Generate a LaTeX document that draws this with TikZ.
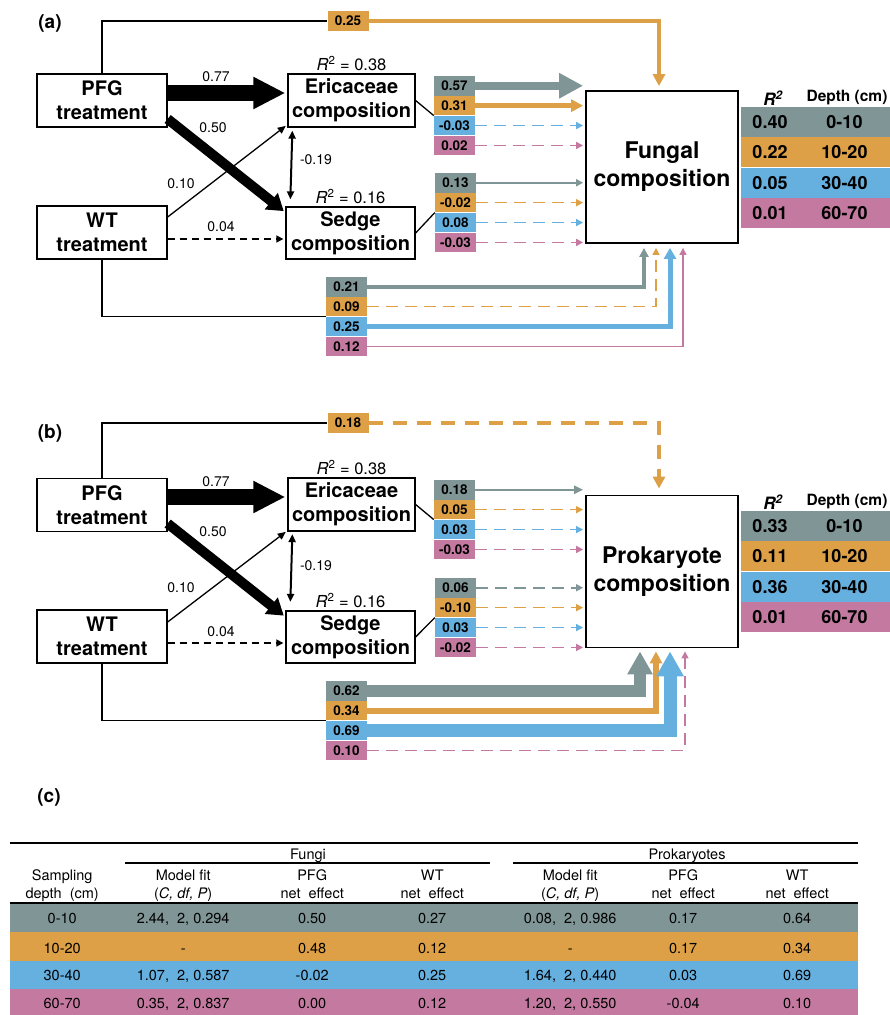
\documentclass[tikz,border=0pt]{standalone}
\usepackage{fontspec}
\setmainfont{TeX Gyre Heros}
\usepackage{tikz}
\usetikzlibrary{arrows.meta, positioning}

\definecolor{gry}{RGB}{128,150,150}
\definecolor{org}{RGB}{222,160,70}
\definecolor{blu}{RGB}{102,176,224}
\definecolor{pnk}{RGB}{196,122,160}

\newcommand{\rtwo}[2]{\makebox[58pt]{#1}\makebox[91pt]{#2}}
\newcommand{\tabcells}[7]{\makebox[104pt]{#1}\makebox[138pt]{#2}\makebox[120pt]{#3}\makebox[120pt]{#4}\makebox[156pt]{#5}\makebox[70pt]{#6}\makebox[158pt]{#7}}

\begin{document}
\begin{tikzpicture}[x=1pt, y=-1pt,
    box/.style={draw, line width=1.3pt, minimum width=130pt, minimum height=53pt, inner sep=0pt, align=center, font=\bfseries\fontsize{20}{24}\selectfont},
    bigbox/.style={draw, line width=1.8pt, minimum width=152pt, minimum height=152pt, inner sep=0pt, align=center, font=\bfseries\fontsize{23}{28}\selectfont},
    coef/.style={minimum width=41pt, minimum height=19.5pt, inner sep=0pt, font=\bfseries\fontsize{13.5}{13.5}\selectfont},
    rrow/.style={minimum width=149pt, minimum height=30pt, inner sep=0pt, font=\bfseries\fontsize{18}{18}\selectfont},
    lab/.style={inner sep=0pt, font=\fontsize{14}{14}\selectfont},
    rsq/.style={inner sep=0pt, font=\fontsize{16.5}{16.5}\selectfont},
    panel/.style={font=\bfseries\fontsize{19}{19}\selectfont},
    tab/.style={inner sep=0pt, font=\fontsize{14.5}{14.5}\selectfont},
    arrowhead/.style 2 args={-{Triangle[length=#1, width=#2]}, shorten >=2pt},
    thinarr/.style={line width=1.5pt, arrowhead={7pt}{7pt}},
    dsh/.style={dash pattern=on 12pt off 7pt},
    twoway/.style={line width=2pt, {Triangle[length=8pt,width=7pt]}-{Triangle[length=8pt,width=7pt]}},
  ]
  \useasboundingbox (0,0) rectangle (890,1015);

  % (a) fungi
  \node[panel] (alab) at (50,23) {(a)};
  \node[box] (apfg) at (102,100.5) {PFG\\treatment};
  \node[box] (awt) at (102,232.5) {WT\\treatment};
  \node[box, minimum width=127pt] (aeri) at (351.5,100.5) {Ericaceae\\composition};
  \node[box, minimum width=129pt, minimum height=52pt] (ased) at (350.5,233) {Sedge\\composition};
  \node[bigbox] (afun) at (662,167) {Fungal\\composition};
  \node[rsq, above=2pt of aeri] (aer2) {\textit{R}\textsuperscript{2} = 0.38};
  \node[rsq, above=2pt of ased] (asr2) {\textit{R}\textsuperscript{2} = 0.16};

  \draw[line width=16pt, arrowhead={32pt}{30pt}] ([yshift=7.5pt]apfg.east) -- ([yshift=7.5pt]apfg.east -| aeri.west);
  \draw[line width=10pt, arrowhead={16pt}{20pt}] ([yshift=-18.5pt]apfg.east) -- ([yshift=-6pt]ased.north west);
  \draw[line width=1.3pt, arrowhead={8pt}{7pt}] ([yshift=15.5pt]awt.east) -- ([yshift=3pt]aeri.south west);
  \draw[line width=1.5pt, dash pattern=on 7pt off 5pt, arrowhead={7pt}{7pt}] ([yshift=-6.5pt]awt.east) -- ([yshift=-6.5pt]awt.east -| ased.west);
  \draw[twoway] ([xshift=5pt,yshift=-3pt]aeri.south west) -- ([xshift=5pt,yshift=7pt]ased.north west);
  \node[lab] (a77) at (216,77) {0.77};
  \node[lab] (a50) at (213,128) {0.50};
  \node[lab] (a10) at (181,184) {0.10};
  \node[lab] (a04) at (221,227) {0.04};
  \node[lab] (a19) at (316,160) {-0.19};

  \node[coef, fill=org] (at25) at (348,21) {0.25};
  \draw[line width=1.3pt] (apfg.north) |- (at25.west);
  \draw[org, line width=4pt, arrowhead={12pt}{12pt}] (at25.east) -| ([xshift=-3pt,yshift=2pt]afun.north);

  \node[coef, fill=gry] (ae1) at (454.5,85.75) {0.57};
  \node[coef, fill=org, below=0pt of ae1] (ae2) {0.31};
  \node[coef, fill=blu, below=0pt of ae2] (ae3) {-0.03};
  \node[coef, fill=pnk, below=0pt of ae3] (ae4) {0.02};
  \draw[line width=1.3pt] (aeri.east) -- (ae2.south west);
  \draw[gry, line width=8pt, arrowhead={24pt}{24pt}] (ae1.east) -- (ae1.east -| afun.west);
  \draw[org, line width=4.5pt, arrowhead={12pt}{12pt}] (ae2.east) -- (ae2.east -| afun.west);
  \draw[blu, thinarr, dsh] (ae3.east) -- (ae3.east -| afun.west);
  \draw[pnk, thinarr, dsh] (ae4.east) -- (ae4.east -| afun.west);

  \node[coef, fill=gry] (as1) at (455.5,182.75) {0.13};
  \node[coef, fill=org, below=0pt of as1] (as2) {-0.02};
  \node[coef, fill=blu, below=0pt of as2] (as3) {0.08};
  \node[coef, fill=pnk, below=0pt of as3] (as4) {-0.03};
  \draw[line width=1.3pt] (ased.east) -- (as2.south west);
  \draw[gry, thinarr, line width=2pt] (as1.east) -- (as1.east -| afun.west);
  \draw[org, thinarr, dsh] (as2.east) -- (as2.east -| afun.west);
  \draw[blu, thinarr, dsh] (as3.east) -- (as3.east -| afun.west);
  \draw[pnk, thinarr, dsh] (as4.east) -- (as4.east -| afun.west);

  \node[coef, fill=gry] (aw1) at (346.5,286.75) {0.21};
  \node[coef, fill=org, below=0pt of aw1] (aw2) {0.09};
  \node[coef, fill=blu, below=0pt of aw2] (aw3) {0.25};
  \node[coef, fill=pnk, below=0pt of aw3] (aw4) {0.12};
  \draw[line width=1.3pt] (awt.south) |- (aw2.south west);
  \draw[gry, line width=4pt, arrowhead={9pt}{9pt}] (aw1.east) -| ([xshift=-18pt,yshift=-2pt]afun.south);
  \draw[org, thinarr, dsh] (aw2.east) -| ([xshift=-6pt,yshift=-2pt]afun.south);
  \draw[blu, line width=5pt, arrowhead={11pt}{12pt}] (aw3.east) -| ([xshift=8pt,yshift=-2pt]afun.south);
  \draw[pnk, thinarr, line width=1.2pt] (aw4.east) -| ([xshift=21pt,yshift=-2pt]afun.south);

  \node[font=\bfseries\itshape\fontsize{17}{17}\selectfont] (ar2h) at (773,98) {R\textsuperscript{2}};
  \node[font=\bfseries\fontsize{15.5}{15.5}\selectfont] (adh) at (847,98) {Depth (cm)};
  \node[rrow, fill=gry] (ar1) at (815.5,122) {\rtwo{0.40}{0-10}};
  \node[rrow, fill=org, below=0pt of ar1] (ar2) {\rtwo{0.22}{10-20}};
  \node[rrow, fill=blu, below=0pt of ar2] (ar3) {\rtwo{0.05}{30-40}};
  \node[rrow, fill=pnk, below=0pt of ar3] (ar4) {\rtwo{0.01}{60-70}};

  % (b) prokaryotes
  \node[panel] (blab) at (50,433) {(b)};
  \node[box] (bpfg) at (102,505) {PFG\\treatment};
  \node[box] (bwt) at (102,636.5) {WT\\treatment};
  \node[box, minimum width=127pt] (beri) at (351.5,504.5) {Ericaceae\\composition};
  \node[box, minimum width=129pt, minimum height=52pt] (bsed) at (350.5,637) {Sedge\\composition};
  \node[bigbox] (bpro) at (662,571.5) {Prokaryote\\composition};
  \node[rsq, above=2pt of beri] (ber2) {\textit{R}\textsuperscript{2} = 0.38};
  \node[rsq, above=2pt of bsed] (bsr2) {\textit{R}\textsuperscript{2} = 0.16};

  \draw[line width=16pt, arrowhead={32pt}{30pt}] ([yshift=8pt]bpfg.east) -- ([yshift=8pt]bpfg.east -| beri.west);
  \draw[line width=10pt, arrowhead={16pt}{20pt}] ([yshift=-18.5pt]bpfg.east) -- ([yshift=-6.5pt]bsed.north west);
  \draw[line width=1.3pt, arrowhead={8pt}{7pt}] ([yshift=14.5pt]bwt.east) -- ([yshift=1pt]beri.south west);
  \draw[line width=1.5pt, dash pattern=on 7pt off 5pt, arrowhead={7pt}{7pt}] ([yshift=-6.5pt]bwt.east) -- ([yshift=-6.5pt]bwt.east -| bsed.west);
  \draw[twoway] ([xshift=5pt,yshift=-2.5pt]beri.south west) -- ([xshift=5pt,yshift=8.5pt]bsed.north west);
  \node[lab] (b77) at (216,482) {0.77};
  \node[lab] (b50) at (213,532) {0.50};
  \node[lab] (b10) at (181,588) {0.10};
  \node[lab] (b04) at (221,632) {0.04};
  \node[lab] (b19) at (316,566) {-0.19};

  \node[coef, fill=org] (bt18) at (348,423) {0.18};
  \draw[line width=1.3pt] (bpfg.north) |- (bt18.west);
  \draw[org, line width=4pt, dash pattern=on 14pt off 10pt, arrowhead={12pt}{12pt}] (bt18.east) -| ([xshift=-3pt,yshift=4pt]bpro.north);

  \node[coef, fill=gry] (be1) at (454.5,489.75) {0.18};
  \node[coef, fill=org, below=0pt of be1] (be2) {0.05};
  \node[coef, fill=blu, below=0pt of be2] (be3) {0.03};
  \node[coef, fill=pnk, below=0pt of be3] (be4) {-0.03};
  \draw[line width=1.3pt] (beri.east) -- (be2.south west);
  \draw[gry, thinarr, line width=2.5pt, arrowhead={9pt}{8pt}] (be1.east) -- (be1.east -| bpro.west);
  \draw[org, thinarr, dsh] (be2.east) -- (be2.east -| bpro.west);
  \draw[blu, thinarr, dsh] (be3.east) -- (be3.east -| bpro.west);
  \draw[pnk, thinarr, dsh] (be4.east) -- (be4.east -| bpro.west);

  \node[coef, fill=gry] (bs1) at (455.5,587.75) {0.06};
  \node[coef, fill=org, below=0pt of bs1] (bs2) {-0.10};
  \node[coef, fill=blu, below=0pt of bs2] (bs3) {0.03};
  \node[coef, fill=pnk, below=0pt of bs3] (bs4) {-0.02};
  \draw[line width=1.3pt] (bsed.east) -- (bs2.south west);
  \draw[gry, thinarr, dsh] (bs1.east) -- (bs1.east -| bpro.west);
  \draw[org, thinarr, dsh] (bs2.east) -- (bs2.east -| bpro.west);
  \draw[blu, thinarr, dsh] (bs3.east) -- (bs3.east -| bpro.west);
  \draw[pnk, thinarr, dsh] (bs4.east) -- (bs4.east -| bpro.west);

  \node[coef, fill=gry] (bw1) at (346.5,690.75) {0.62};
  \node[coef, fill=org, below=0pt of bw1] (bw2) {0.34};
  \node[coef, fill=blu, below=0pt of bw2] (bw3) {0.69};
  \node[coef, fill=pnk, below=0pt of bw3] (bw4) {0.10};
  \draw[line width=1.3pt] (bwt.south) |- (bw2.south west);
  \draw[gry, line width=12pt, arrowhead={23pt}{24pt}] (bw1.east) -| ([xshift=-22pt,yshift=-1pt]bpro.south);
  \draw[org, line width=6pt, arrowhead={12pt}{12pt}] (bw2.east) -| ([xshift=-6pt,yshift=-1pt]bpro.south);
  \draw[blu, line width=13pt, arrowhead={25pt}{26pt}] (bw3.east) -| ([xshift=8pt,yshift=-1pt]bpro.south);
  \draw[pnk, thinarr, dsh] (bw4.east) -| ([xshift=23pt,yshift=-1pt]bpro.south);

  \node[font=\bfseries\itshape\fontsize{17}{17}\selectfont] (br2h) at (773,502) {R\textsuperscript{2}};
  \node[font=\bfseries\fontsize{15.5}{15.5}\selectfont] (bdh) at (847,502) {Depth (cm)};
  \node[rrow, fill=gry] (br1) at (815.5,526) {\rtwo{0.33}{0-10}};
  \node[rrow, fill=org, below=0pt of br1] (br2) {\rtwo{0.11}{10-20}};
  \node[rrow, fill=blu, below=0pt of br2] (br3) {\rtwo{0.36}{30-40}};
  \node[rrow, fill=pnk, below=0pt of br3] (br4) {\rtwo{0.01}{60-70}};

  % (c) table
  \node[panel] (clab) at (49,797) {(c)};
  \fill[gry] (10,903) rectangle (858,932);
  \fill[org] (10,932) rectangle (858,961);
  \fill[blu] (10,961) rectangle (858,989);
  \fill[pnk] (10,989) rectangle (858,1015);
  \draw[line width=1.5pt] (10,843) -- (858,843);
  \node[tab] (cfun) at (308,856) {Fungi};
  \draw[line width=1.2pt] (125,863) -- (490,863);
  \node[tab] (cpro) at (687,856) {Prokaryotes};
  \draw[line width=1.2pt] (513,863) -- (858,863);
  \node[tab, anchor=west] (ch1) at (10,877) {\tabcells{Sampling}{Model fit}{PFG}{WT}{Model fit}{PFG}{WT}};
  \node[tab, anchor=west] (ch2) at (10,895) {\tabcells{depth~~(cm)}{(\textit{C, df, P})}{net~~effect}{net~~effect}{(\textit{C, df, P})}{net~~effect}{net~~effect}};
  \draw[line width=1.2pt] (10,903) -- (858,903);
  \node[tab, anchor=west] (c1) at (10,919) {\tabcells{0-10}{2.44,~~2, 0.294}{0.50}{0.27}{0.08,~~2, 0.986}{0.17}{0.64}};
  \node[tab, anchor=west] (c2) at (10,948) {\tabcells{10-20}{-}{0.48}{0.12}{-}{0.17}{0.34}};
  \node[tab, anchor=west] (c3) at (10,976) {\tabcells{30-40}{1.07,~~2, 0.587}{-0.02}{0.25}{1.64,~~2, 0.440}{0.03}{0.69}};
  \node[tab, anchor=west] (c4) at (10,1004) {\tabcells{60-70}{0.35,~~2, 0.837}{0.00}{0.12}{1.20,~~2, 0.550}{-0.04}{0.10}};
\end{tikzpicture}
\end{document}
